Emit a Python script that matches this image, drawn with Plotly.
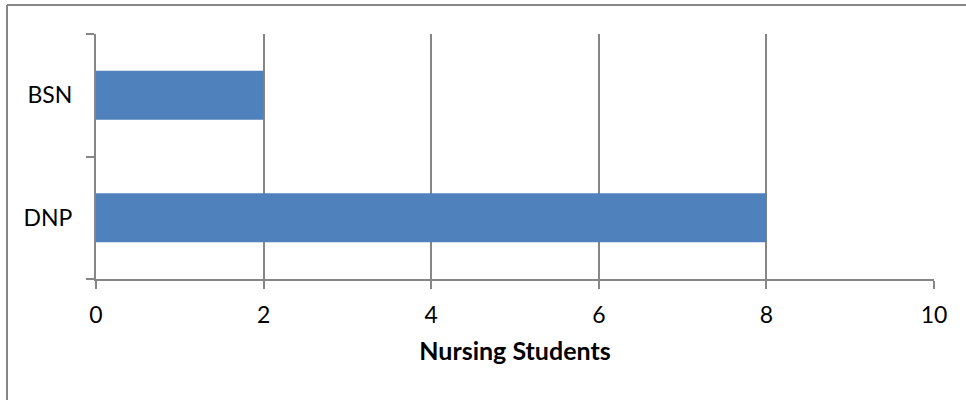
import plotly.graph_objects as go

# Nursing students by degree program
programs = ["DNP", "BSN"]
students = [8, 2]
x_ticks = [0, 2, 4, 6, 8, 10]

BAR = "#4F81BD"
GRID = "#868686"
FONT = "Lato, 'Open Sans', sans-serif"

fig = go.Figure(
    go.Bar(
        x=students,
        y=programs,
        orientation="h",
        marker=dict(color=BAR, line=dict(width=0)),
        hoverinfo="x+y",
    )
)

fig.update_layout(
    width=966,
    height=400,
    margin=dict(l=96, r=32, t=34, b=121),
    paper_bgcolor="white",
    plot_bgcolor="white",
    bargap=0.6,
    showlegend=False,
    font=dict(family=FONT, size=23, color="black"),
    xaxis=dict(
        range=[0, 10],
        tickvals=x_ticks,
        ticktext=[str(v) for v in x_ticks],
        showgrid=True,
        gridcolor=GRID,
        gridwidth=2,
        zeroline=False,
        showline=True,
        linecolor=GRID,
        linewidth=2,
        ticks="outside",
        ticklen=8,
        tickwidth=2,
        tickcolor=GRID,
        tickfont=dict(size=23),
        ticklabelstandoff=6,
        title=dict(
            text="<b>Nursing Students</b>",
            font=dict(size=25),
            standoff=16,
        ),
    ),
    yaxis=dict(
        type="category",
        categoryorder="array",
        categoryarray=programs,
        tickson="boundaries",
        showgrid=False,
        zeroline=False,
        showline=True,
        linecolor=GRID,
        linewidth=2,
        ticks="outside",
        ticklen=8,
        tickwidth=2,
        tickcolor=GRID,
        tickfont=dict(size=23),
        ticklabelstandoff=17,
    ),
    shapes=[
        # chart frame: top and left edges
        dict(type="line", xref="paper", yref="paper",
             x0=-0.1062, x1=1.05, y0=1.1184, y1=1.1184,
             line=dict(color=GRID, width=2)),
        dict(type="line", xref="paper", yref="paper",
             x0=-0.1062, x1=-0.1062, y0=1.1184, y1=-0.51,
             line=dict(color=GRID, width=2)),
    ],
)

fig.write_html("out.html")
